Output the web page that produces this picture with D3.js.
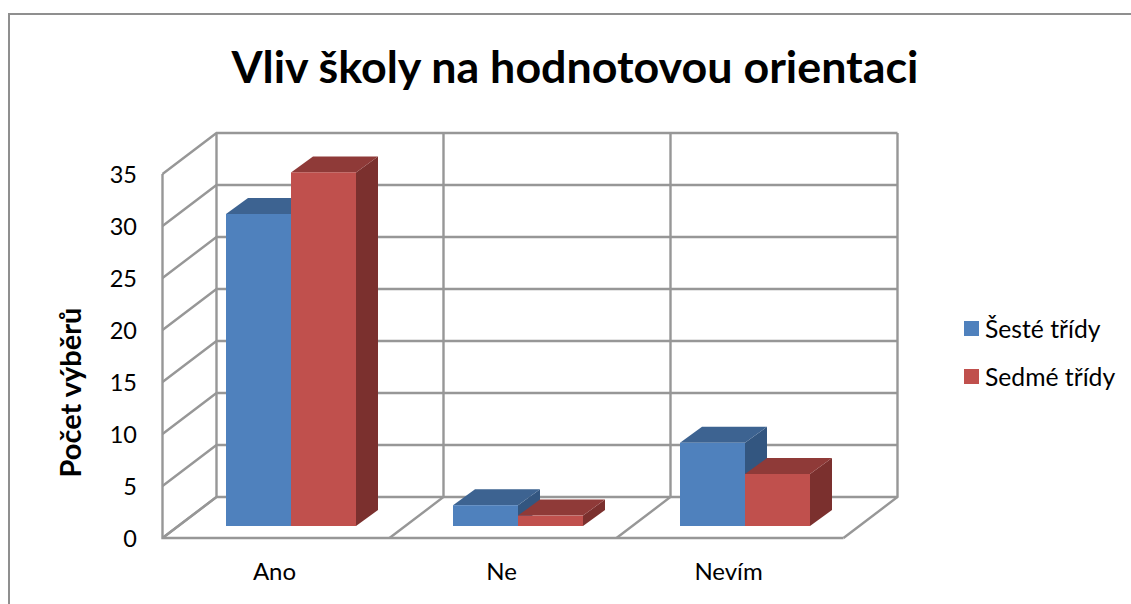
<!DOCTYPE html>
<html><head><meta charset="utf-8">
<script src="https://cdnjs.cloudflare.com/ajax/libs/d3/7.8.5/d3.min.js"></script>
<style>html,body{margin:0;padding:0;background:#fff}svg{display:block}text{font-family:Lato,Carlito,sans-serif;fill:#000}</style>
</head><body><svg id="c" width="1131" height="604"></svg>
<script>
const categories = ["Ano", "Ne", "Nevím"];
const seriesNames = ["Šesté třídy", "Sedmé třídy"];
const sesteTridy = [30, 2, 8];
const sedmeTridy = [34, 1, 5];
const yTicks = [0, 5, 10, 15, 20, 25, 30, 35];
const title = "Vliv školy na hodnotovou orientaci";
const yTitle = "Počet výběrů";

const svg = d3.select("#c");
const W = 1131, H = 604;
const grid = "#979797";
const frontL = 162.5, frontR = 843.5, floorY = 538, topY = 174;
const dx = 54, dy = 41;           // wall offset
const barDx = 22, barDy = 16;     // bar depth
const barInset = 12;              // bar front sits this far up from the floor front

const x = d3.scaleBand().domain(categories).range([frontL, frontR]);
const y = d3.scaleLinear().domain([0, 35]).range([floorY, topY]);
const series = d3.scaleBand().domain(seriesNames).range([0, 130]);
const barOffset = 63.5;

// chart border: left and top only, the picture is cropped at right and bottom
svg.append("path").attr("d", `M9,${H} V14 H${W}`).attr("fill","none").attr("stroke","#8f8f8f").attr("stroke-width",2);

// gridlines
const g = svg.append("g").attr("fill","none").attr("stroke",grid).attr("stroke-width",2.4);
yTicks.forEach(t => {
  g.append("path").attr("d", `M${frontL},${y(t)} L${frontL+dx},${y(t)-dy} H${frontR+dx}`);
});
const edges = categories.map(c => x(c)).concat([frontR]);
edges.forEach(e => {
  g.append("path").attr("d", `M${e},${floorY} L${e+dx},${floorY-dy} V${y(35)-dy}`);
});
g.append("path").attr("d", `M${frontL},${y(35)} V${floorY} H${frontR}`);

// 3D bars
const barY = v => y(v) - barInset;
const blue = {front:"#4f81bd", top:"#3d6391", side:"#335680"};
const red  = {front:"#c0504d", top:"#8f3a38", side:"#7b302e"};
const bars = svg.append("g");
function drawBar(cat, name, v, col){
  const x0 = x(cat) + barOffset + series(name), w = series.bandwidth();
  const yt = barY(v), yb = barY(0);
  const b = bars.append("g");
  b.append("path").attr("fill",col.side).attr("d",`M${x0+w},${yt} l${barDx},${-barDy} V${yb-barDy} L${x0+w},${yb} Z`);
  b.append("path").attr("fill",col.top).attr("d",`M${x0},${yt} l${barDx},${-barDy} h${w} l${-barDx},${barDy} Z`);
  b.append("rect").attr("fill",col.front).attr("x",x0).attr("y",yt).attr("width",w).attr("height",yb-yt);
}
categories.forEach((c,i) => {
  drawBar(c, seriesNames[0], sesteTridy[i], blue);
  drawBar(c, seriesNames[1], sedmeTridy[i], red);
});

// axis labels
svg.append("g").selectAll("text").data(yTicks).join("text")
  .attr("x",137).attr("y",d=>y(d)+9).attr("text-anchor","end").attr("font-size",23.5).text(d=>d);
svg.append("g").selectAll("text").data(categories).join("text")
  .attr("x",d=>x(d)+x.bandwidth()/2-1.5).attr("y",580).attr("text-anchor","middle").attr("font-size",24).text(d=>d);

svg.append("text").attr("x",575).attr("y",83).attr("text-anchor","middle").attr("font-size",44.8).attr("font-weight",700).text(title);
svg.append("text").attr("transform","translate(80.5,392.5) rotate(-90)").attr("text-anchor","middle").attr("font-size",29).attr("font-weight",700).text(yTitle);

// legend
const leg = svg.append("g");
[blue,red].forEach((col,i)=>{
  const ly = 321 + i*48;
  leg.append("rect").attr("x",964).attr("y",ly).attr("width",15).attr("height",15).attr("fill",col.front);
  leg.append("text").attr("x",985).attr("y",ly+17).attr("font-size",24.7).text(seriesNames[i]);
});
</script></body></html>
